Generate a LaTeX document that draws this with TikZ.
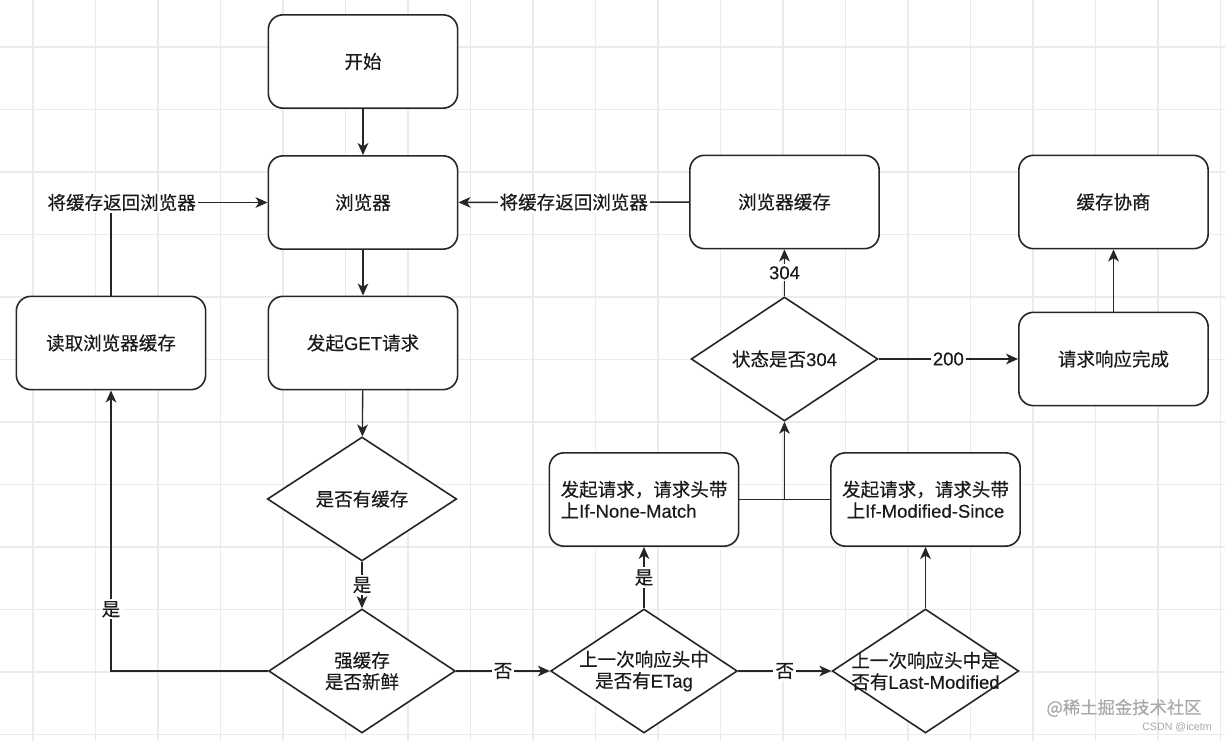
\documentclass[tikz,border=0pt]{standalone}
\usepackage{fontspec}
\setmainfont{Noto Sans CJK SC}[FakeBold=0.3]
\newfontfamily\lat{Liberation Sans}[FakeBold=0.3]
\newfontfamily\latplain{Liberation Sans}
\usetikzlibrary{shapes.geometric,arrows.meta}
\definecolor{gridc}{HTML}{EBEBEB}
\definecolor{linec}{HTML}{262626}
\definecolor{txtc}{HTML}{1A1A1A}
\definecolor{wmc}{HTML}{A8A8A8}
\begin{document}
\begin{tikzpicture}[x=0.75pt,y=-0.75pt,
  basefont/.style={font=\fontsize{13.9pt}{16pt}\selectfont, text=txtc},
  box/.style={basefont, draw=linec, line width=1.2pt, rounded corners=11pt,
    minimum width=142pt, minimum height=70pt, inner sep=0pt, align=center, fill=white},
  dia/.style={draw=linec, line width=1.2pt, diamond,
    minimum width=140pt, minimum height=93pt, inner sep=0pt, fill=white},
  diatext/.style={basefont, align=center, inner sep=0pt},
  arr/.style={draw=linec, line width=1pt, -{Stealth[length=9pt,width=8pt,inset=2.5pt]}},
  ln/.style={draw=linec, line width=1pt},
  lbl/.style={basefont, fill=white, inner sep=1.5pt},
  gridline/.style={draw=gridc, line width=0.8pt},
  wm/.style={text=wmc, inner sep=0pt},
]
\useasboundingbox (0,0) rectangle (1225,741);
\fill[white] (0,0) rectangle (1225,741);
% grid
\foreach \i in {0,...,19} \draw[gridline] ({33+62.5*\i},0) -- ++(0,741);
\foreach \j in {0,...,11} \draw[gridline] (0,{47+62.5*\j}) -- ++(1225,0);

% nodes
\node[box] (start) at (363,61.5) {开始};
\node[box] (browser) at (363,202.5) {浏览器};
\node[box] (get) at (363,343) {发起{\lat GET}请求};
\node[dia, minimum width=142pt] (has) at (362,499) {};
\node[diatext] (hast) at (has.center) {是否有缓存};
\node[dia] (fresh) at (362,671) {};
\node[diatext] (fresht) at (fresh.center) {强缓存\\是否新鲜};
\node[box] (read) at (111,343) {读取浏览器缓存};
\node[dia] (etag) at (644,671) {};
\node[diatext] (etagt) at (etag.center) {上一次响应头中\\是否有{\lat ETag}};
\node[box, align=left] (inm) at (644,499.5) {发起请求，请求头带\\上{\lat If-None-Match}};
\node[dia] (lm) at (925.5,671) {};
\node[diatext] (lmt) at (lm.center) {上一次响应头中是\\否有{\lat Last-Modified}};
\node[box] (ims) at (925.5,499.5) {发起请求，请求头带\\上{\lat If-Modified-Since}};
\node[dia] (s304) at (784.5,359) {};
\node[diatext] (s304t) at (s304.center) {状态是否{\lat 304}};
\node[box] (bcache) at (784.5,202) {浏览器缓存};
\node[box] (done) at (1113.5,359) {请求响应完成};
\node[box] (nego) at (1113.5,202) {缓存协商};

% connectors
\draw[arr] (start) -- (browser);
\draw[arr] (browser) -- (get);
\draw[arr] (get) -- (has);
\draw[arr] (has) -- node[lbl] {是} (fresh);
\draw[arr] (fresh) -- node[lbl] {否} (etag);
\draw[arr] (etag) -- node[lbl] {是} (inm);
\draw[arr] (etag) -- node[lbl] {否} (lm);
\draw[arr] (lm) -- (ims);
\coordinate (j) at (s304.south |- inm.east);
\draw[ln] (inm.east) -- (ims.west);
\draw[arr] (j) -- (s304.south);
\draw[arr] (s304) -- node[lbl] {\lat 304} (bcache);
\draw[arr] (s304) -- node[lbl] {\lat 200} (done);
\draw[arr] (done) -- (nego);
\draw[arr] (bcache) -- node[lbl] {将缓存返回浏览器} (browser);
\draw[arr] (fresh.west) -| node[lbl, pos=0.61] {是} (read.south);
\draw[arr] (read.north) |- node[lbl, pos=0.5, xshift=8pt] {将缓存返回浏览器} (browser.west);

% watermark texts
\node[wm, font=\fontsize{13pt}{15pt}\selectfont] (wm1) at (1124,708) {@稀土掘金技术社区};
\node[wm, font=\latplain\fontsize{8pt}{10pt}\selectfont] (wm2) at (1177,727) {CSDN @icetm};
\end{tikzpicture}
\end{document}
